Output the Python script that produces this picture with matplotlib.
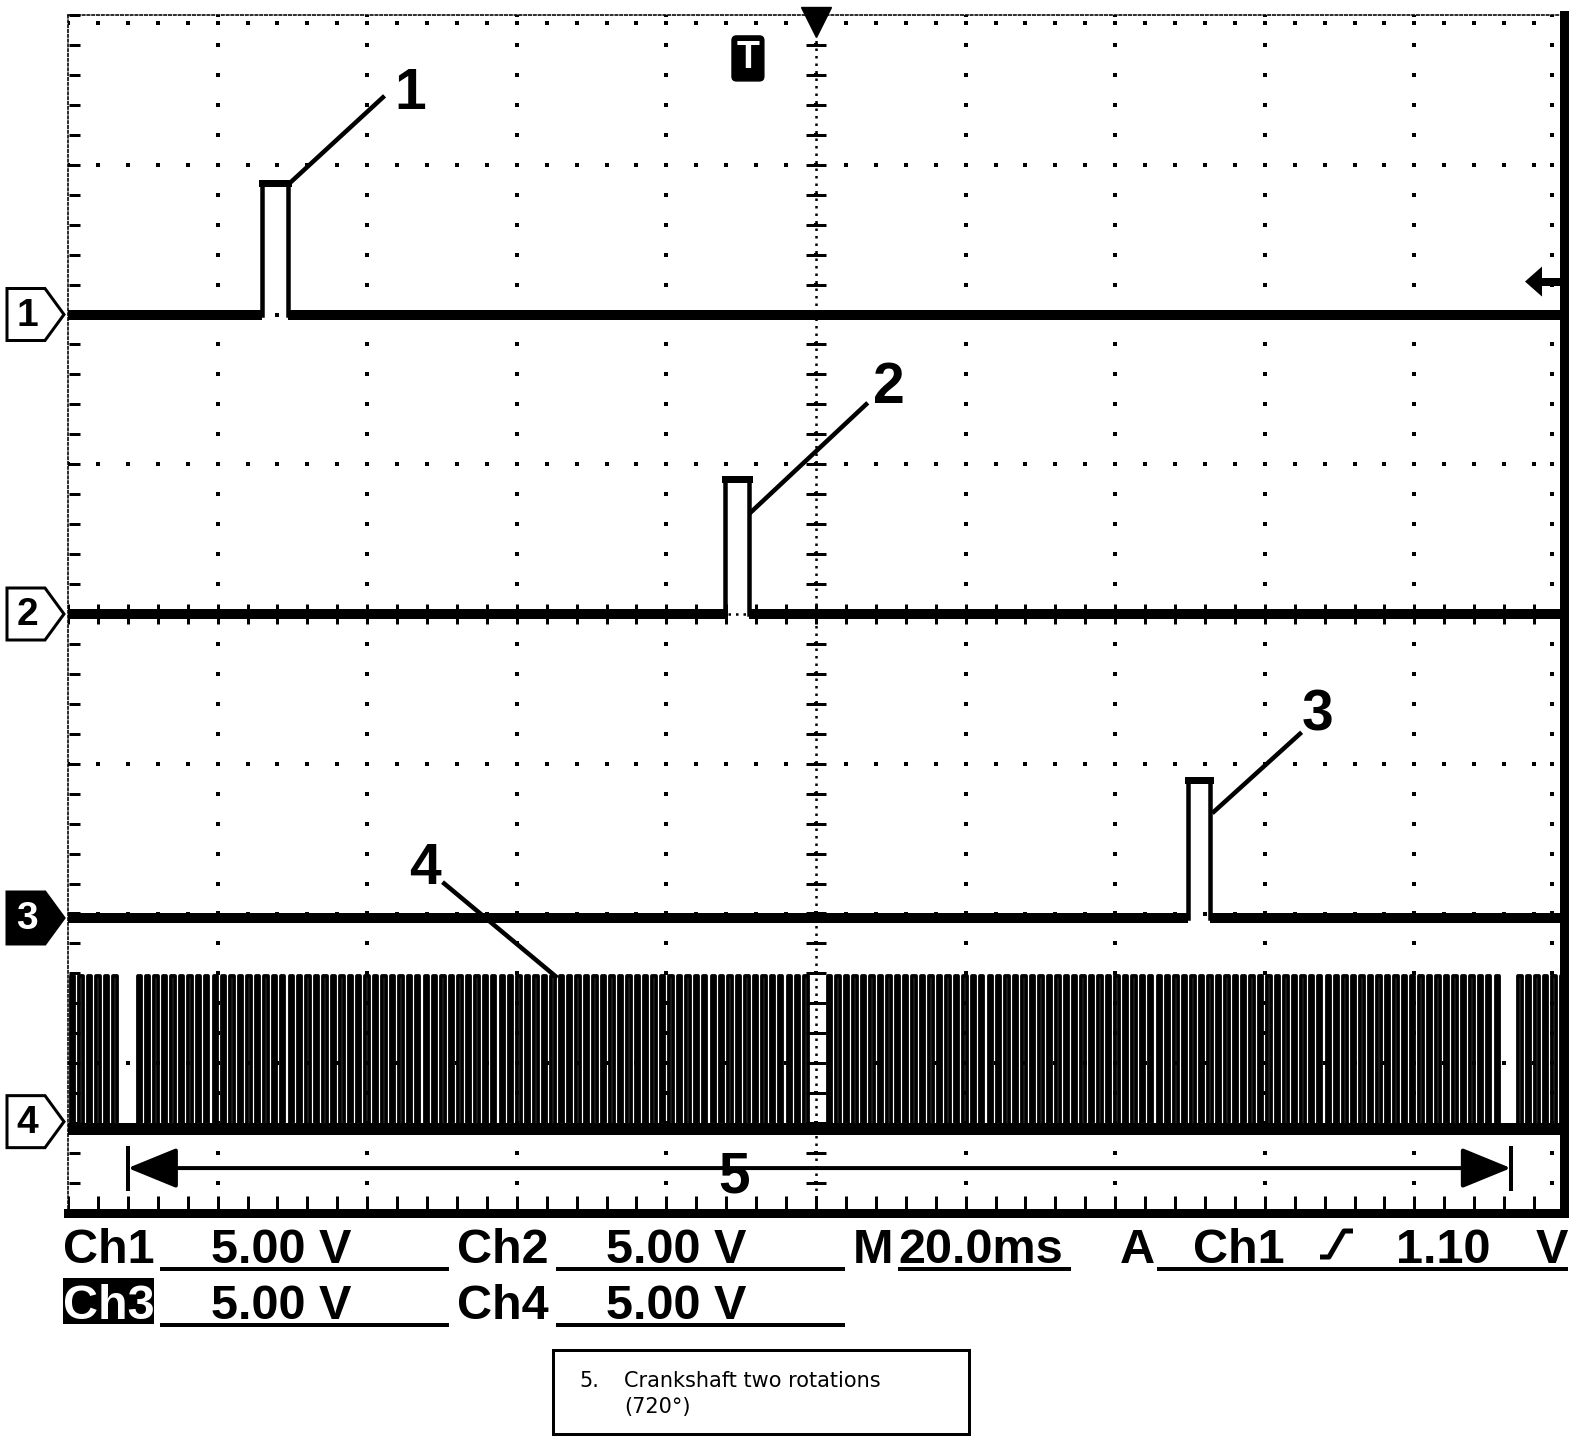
import numpy as np
import matplotlib.pyplot as plt
from matplotlib.patches import Polygon, Rectangle

W, H, DPI = 1584, 1446, 100

# screen scale
ms_per_div = 20.0
volts_per_div = 5.0
t_span_ms = 200.0

# channel ground positions (divisions from screen centre)
channels = ["1", "2", "3", "4"]
channel_offset_div = [2.0, 0.0, -2.03, -3.39]

# single pulses on Ch1..Ch3
pulse_start_ms = [25.9, 87.9, 149.7]
pulse_end_ms = [29.4, 91.1, 152.7]
pulse_height_v = [4.4, 4.5, 4.6]

# Ch4 crank teeth: missing-tooth gaps, tooth period and duty
gap_start_ms = [6.5, 98.9, 191.3]
gap_end_ms = [9.3, 101.6, 193.9]
tooth_period_ms = 1.13
tooth_duty = 0.4
ch4_high_v = 4.85
ch4_low_v = -0.25

trigger_level_v = 1.10
trigger_pos_ms = 100.0
t_marker_ms = 90.9

# "5" span: two crank rotations
span_start_ms = 8.0
span_end_ms = 192.9

# callouts: label, text position (ms, div; baseline), leader start, leader end
callout_labels = ["1", "2", "3", "4", "5"]
callout_text = [(45.7, 3.37), (109.8, 1.41), (167.1, -0.775), (47.7, -1.80),
                (89.0, -3.86)]
callout_from = [(42.1, 3.45), (106.7, 1.40), (164.7, -0.80), (50.3, -1.80)]
callout_to = [(29.7, 2.88), (91.3, 0.68), (153.2, -1.32), (65.2, -2.42)]

readout_row1 = [("Ch1", 63), ("5.00 V", 211), ("Ch2", 457), ("5.00 V", 606),
                ("M", 853), ("20.0ms", 898), ("A", 1120), ("Ch1", 1193),
                ("1.10", 1396)]
readout_row2 = [("Ch3", 63), ("5.00 V", 211), ("Ch4", 457), ("5.00 V", 606)]


def px(v):
    return v * 72.0 / DPI


def crank_edges():
    hi, lo = ch4_high_v, ch4_low_v
    edges = []
    # first partial run, ends with a falling edge at the first gap
    b = gap_start_ms[0]
    p = tooth_period_ms
    k = 0
    while b - k * p >= 0:
        edges.append((b - k * p, lo))
        if b - k * p - tooth_duty * p >= 0:
            edges.append((b - k * p - tooth_duty * p, hi))
        k += 1
    # full runs between gaps
    for a, b in zip(gap_end_ms[:-1], gap_start_ms[1:]):
        n = int(round((b - a) / tooth_period_ms + 1 - tooth_duty))
        p = (b - a) / (n - 1 + tooth_duty)
        for k in range(n):
            edges.append((a + k * p, hi))
            edges.append((a + k * p + tooth_duty * p, lo))
    # last partial run
    a = gap_end_ms[-1]
    p = tooth_period_ms
    k = 0
    while a + k * p <= t_span_ms:
        edges.append((a + k * p, hi))
        if a + k * p + tooth_duty * p <= t_span_ms:
            edges.append((a + k * p + tooth_duty * p, lo))
        k += 1
    edges.sort()
    level = hi if edges[0][1] == lo else lo
    t, v = [0.0], [level]
    for te, lv in edges:
        t += [te, te]
        v += [level, lv]
        level = lv
    t.append(t_span_ms)
    v.append(level)
    return np.array(t), np.array(v)


fig = plt.figure(figsize=(W / DPI, H / DPI), dpi=DPI, facecolor="white")
ax = fig.add_axes([68 / W, (H - 1213) / H, (1564 - 68) / W, (1213 - 15) / H])
ax.set_xlim(0, t_span_ms)
ax.set_ylim(-4, 4)
ax.set_xticks([])
ax.set_yticks([])
for s in ["left", "top"]:
    ax.spines[s].set_linewidth(px(1.6))
    ax.spines[s].set_linestyle((0, (1.5, 1.5)))
for s in ["right", "bottom"]:
    ax.spines[s].set_linewidth(px(9))

# graticule
x_major = np.arange(ms_per_div, t_span_ms, ms_per_div)
x_minor = np.arange(0, t_span_ms + 0.01, ms_per_div / 5)
y_major = np.arange(-3, 4)
y_minor = np.arange(-4, 4.01, 0.2)
dot = dict(ls="none", marker="s", ms=px(3.4), color="black", mew=0)
for xm in x_major:
    ax.plot(np.full_like(y_minor, xm), y_minor, **dot)
for ym in y_major:
    ax.plot(x_minor, np.full_like(x_minor, ym), **dot)
ax.axvline(trigger_pos_ms, color="black", lw=px(2.5), ls=(0, (1, 2)))
ax.axhline(0, color="black", lw=px(2.5), ls=(0, (1, 2)))
ax.plot(np.full_like(y_minor, trigger_pos_ms), y_minor, ls="none", marker="_",
        ms=px(20), mew=px(3), color="black")
ax.plot(x_minor, np.zeros_like(x_minor), ls="none", marker="|",
        ms=px(20), mew=px(3), color="black")
ax.plot(np.full_like(y_minor, 0.8), y_minor, ls="none", marker="_",
        ms=px(11), mew=px(3), color="black", clip_on=False)
ax.plot(np.full_like(y_minor, t_span_ms - 1.6), y_minor, **dot)
ax.plot(x_minor, np.full_like(x_minor, 4 - 0.055), **dot)
ax.plot(x_minor, np.full_like(x_minor, -4 + 0.06), ls="none", marker="|",
        ms=px(16), mew=px(3), color="black")

# Ch1..Ch3 traces
for i in range(3):
    s, e, h = pulse_start_ms[i], pulse_end_ms[i], pulse_height_v[i]
    off = channel_offset_div[i]
    t = [0, s, s, e, e, t_span_ms]
    v = [0, 0, h, h, 0, 0]
    ax.plot(t, off + np.array(v) / volts_per_div, color="black", lw=px(4.5),
            solid_joinstyle="miter")
    ax.hlines([off, off], [0, e], [s, t_span_ms], color="black", lw=px(10))
    ax.plot([s, e], [off + h / volts_per_div] * 2, color="black", lw=px(7))

# Ch4 crank signal
t4, v4 = crank_edges()
off4 = channel_offset_div[3]
ax.plot(t4, off4 + v4 / volts_per_div, color="black", lw=px(3.8))
ax.plot(t4, np.where(v4 == ch4_low_v, off4 + ch4_low_v / volts_per_div, np.nan),
        color="black", lw=px(12))

# trigger position and T marker
ax.plot([trigger_pos_ms], [3.95], marker="v", ms=px(30), color="black",
        clip_on=False)
ax.text(t_marker_ms, 3.71, "T", ha="center", va="center", color="white",
        fontsize=27, fontweight="bold", family="Liberation Sans",
        bbox=dict(boxstyle="round,pad=0.12", fc="black", ec="black"))

# callouts
for lab, tp in zip(callout_labels, callout_text):
    ax.text(tp[0], tp[1], lab, ha="center", va="baseline", fontsize=41,
            fontweight="bold", family="Liberation Sans")
for p0, p1 in zip(callout_from, callout_to):
    ax.plot([p0[0], p1[0]], [p0[1], p1[1]], color="black", lw=px(4.5))

span_y = -3.70
ax.annotate("", xy=(span_end_ms, span_y), xytext=(span_start_ms, span_y),
            arrowprops=dict(arrowstyle="<|-|>,head_length=1.1,head_width=0.45",
                            lw=px(4), color="black", mutation_scale=28,
                            shrinkA=0, shrinkB=0))
ax.vlines([span_start_ms, span_end_ms], span_y - 0.15, span_y + 0.15,
          color="black", lw=px(4))

# overlay for readouts and channel markers (pixel coordinates)
ov = fig.add_axes([0, 0, 1, 1], zorder=5)
ov.set_xlim(0, W)
ov.set_ylim(H, 0)
ov.axis("off")

for i, ch in enumerate(channels):
    y = H - ax.transData.transform((0, channel_offset_div[i]))[1]
    sel = ch == "3"
    poly = Polygon([(7, y - 26), (45, y - 26), (64, y), (45, y + 26), (7, y + 26)],
                   closed=True, fc="black" if sel else "white", ec="black",
                   lw=px(3))
    ov.add_patch(poly)
    ov.text(27, y + 1, ch, ha="center", va="center", fontsize=28,
            fontweight="bold", family="Liberation Sans",
            color="white" if sel else "black")

# trigger level arrow on the right edge
ty = H - ax.transData.transform((0, channel_offset_div[0]
                                 + trigger_level_v / volts_per_div))[1]
ov.add_patch(Polygon([(1525, ty), (1542, ty - 15), (1542, ty + 15)],
                     closed=True, fc="black", ec="none"))
ov.plot([1540, 1562], [ty, ty], color="black", lw=px(8), solid_capstyle="butt")

txt = dict(fontsize=35, fontweight="bold", family="Liberation Sans",
           va="baseline", ha="left")
row1_y, row2_y = 1263, 1319
for s, x in readout_row1:
    ov.text(x, row1_y, s, **txt)
ov.text(1568, row1_y, "V", **{**txt, "ha": "right"})
ov.plot([1320, 1329, 1344, 1353], [row1_y - 6, row1_y - 6, row1_y - 32, row1_y - 32],
        color="black", lw=px(5), solid_capstyle="butt")
ov.add_patch(Rectangle((63, row2_y - 41), 91, 46, fc="black", ec="none"))
for s, x in readout_row2:
    c = "white" if s == "Ch3" else "black"
    ov.text(x, row2_y, s, color=c, **txt)
for x0, x1, y in [(160, 449, row1_y + 6), (556, 845, row1_y + 6),
                  (898, 1071, row1_y + 6), (1157, 1568, row1_y + 6),
                  (160, 449, row2_y + 6), (556, 845, row2_y + 6)]:
    ov.plot([x0, x1], [y, y], color="black", lw=px(4), solid_capstyle="butt")

ov.add_patch(Rectangle((553, 1350), 416, 84, fc="none", ec="black", lw=px(3)))
ov.text(579, 1381, "5.", fontsize=15, va="center", family="DejaVu Sans")
ov.text(624, 1381, "Crankshaft two rotations", fontsize=15, va="center",
        family="DejaVu Sans")
ov.text(624, 1407, "(720°)", fontsize=15, va="center", family="DejaVu Sans")

fig.savefig("out.png", dpi=DPI, facecolor="white")
